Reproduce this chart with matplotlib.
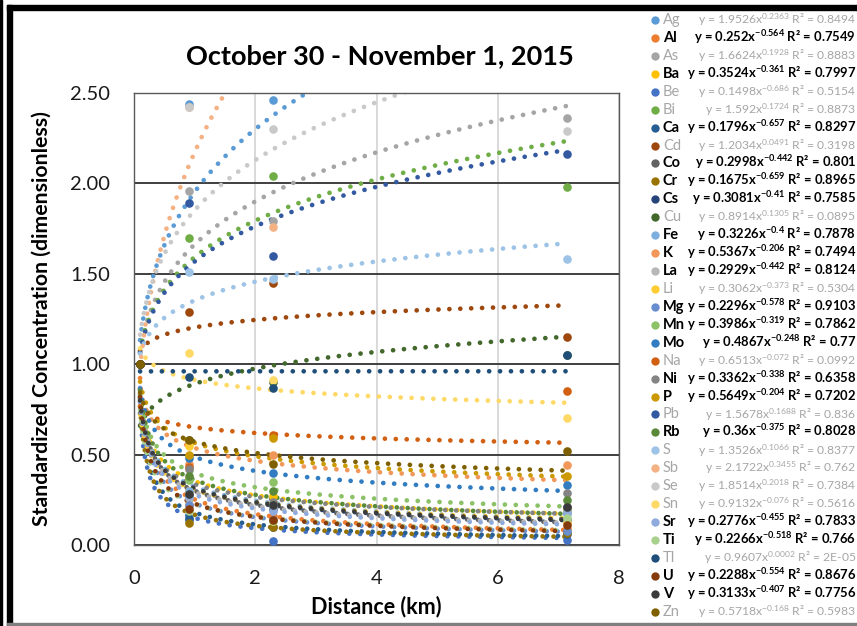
import matplotlib
matplotlib.use('Agg')
import matplotlib.pyplot as plt
import numpy as np
from matplotlib.patches import Rectangle

plt.rcParams['font.family'] = ['Lato', 'DejaVu Sans']
plt.rcParams['mathtext.fontset'] = 'custom'
plt.rcParams['mathtext.rm'] = 'Lato'
plt.rcParams['mathtext.it'] = 'Lato:italic'
plt.rcParams['mathtext.bf'] = 'Lato:bold'

# Sampling sites (km from source)
distance = [0.1, 0.9, 2.3, 7.15]

elements = ['Ag', 'Al', 'As', 'Ba', 'Be', 'Bi', 'Ca', 'Cd', 'Co', 'Cr', 'Cs', 'Cu',
            'Fe', 'K', 'La', 'Li', 'Mg', 'Mn', 'Mo', 'Na', 'Ni', 'P', 'Pb', 'Rb',
            'S', 'Sb', 'Se', 'Sn', 'Sr', 'Ti', 'Tl', 'U', 'V', 'Zn']

colors = ['#5B9BD5', '#ED7D31', '#A5A5A5', '#FFC000', '#4472C4', '#70AD47',
          '#255E91', '#9E480E', '#636363', '#997300', '#264478', '#43682B',
          '#7CAFDD', '#F1975A', '#B7B7B7', '#FFCD33', '#698ED0', '#8CC168',
          '#327DC2', '#D26012', '#848484', '#CC9A00', '#335AA1', '#5A8A39',
          '#9DC3E6', '#F4B183', '#C9C9C9', '#FFD966', '#8FAADC', '#A9D18E',
          '#1F4E79', '#843C0C', '#3B3B3B', '#7F6000']

# standardized concentration at each site, one row per element
conc = [
    [1.0, 2.44, 2.46, 2.85],   # Ag
    [1.0, 0.22, 0.16, 0.09],   # Al
    [1.0, 1.96, 1.79, 2.36],   # As
    [1.0, 0.30, 0.27, 0.19],   # Ba
    [1.0, 0.14, 0.02, 0.03],   # Be
    [1.0, 1.70, 2.04, 1.98],   # Bi
    [1.0, 0.15, 0.10, 0.06],   # Ca
    [1.0, 1.29, 1.45, 1.15],   # Cd
    [1.0, 0.26, 0.22, 0.21],   # Co
    [1.0, 0.12, 0.10, 0.066],  # Cr
    [1.0, 0.27, 0.20, 0.14],   # Cs
    [1.0, 0.58, 0.90, 1.05],   # Cu
    [1.0, 0.30, 0.22, 0.17],   # Fe
    [1.0, 0.45, 0.50, 0.44],   # K
    [1.0, 0.26, 0.21, 0.13],   # La
    [1.0, 0.55, 0.13, 0.12],   # Li
    [1.0, 0.22, 0.14, 0.08],   # Mg
    [1.0, 0.36, 0.35, 0.20],   # Mn
    [1.0, 0.48, 0.40, 0.33],   # Mo
    [1.0, 0.43, 0.61, 0.85],   # Na
    [1.0, 0.42, 0.24, 0.29],   # Ni
    [1.0, 0.50, 0.59, 0.38],   # P
    [1.0, 1.89, 1.60, 2.16],   # Pb
    [1.0, 0.38, 0.30, 0.25],   # Rb
    [1.0, 1.51, 1.47, 1.58],   # S
    [1.0, 2.42, 1.76, 4.60],   # Sb
    [1.0, 2.42, 2.30, 2.29],   # Se
    [1.0, 1.06, 0.91, 0.70],   # Sn
    [1.0, 0.27, 0.19, 0.18],   # Sr
    [1.0, 0.19, 0.13, 0.15],   # Ti
    [1.0, 0.93, 0.87, 1.05],   # Tl
    [1.0, 0.20, 0.14, 0.11],   # U
    [1.0, 0.28, 0.22, 0.21],   # V
    [1.0, 0.58, 0.45, 0.52],   # Zn
]

# power trendline y = a * x^b (from the legend)
coef_a = [1.9526, 0.252, 1.6624, 0.3524, 0.1498, 1.592, 0.1796, 1.2034, 0.2998,
          0.1675, 0.3081, 0.8914, 0.3226, 0.5367, 0.2929, 0.3062, 0.2296, 0.3986,
          0.4867, 0.6513, 0.3362, 0.5649, 1.5678, 0.36, 1.3526, 2.1722, 1.8514,
          0.9132, 0.2776, 0.2266, 0.9607, 0.2288, 0.3133, 0.5718]
coef_b = [0.2363, -0.564, 0.1928, -0.361, -0.686, 0.1724, -0.657, 0.0491, -0.442,
          -0.659, -0.41, 0.1305, -0.4, -0.206, -0.442, -0.373, -0.578, -0.319,
          -0.248, -0.072, -0.338, -0.204, 0.1688, -0.375, 0.1066, 0.3455, 0.2018,
          -0.076, -0.455, -0.518, 0.0002, -0.554, -0.407, -0.168]
r_squared = ['0.8494', '0.7549', '0.8883', '0.7997', '0.5154', '0.8873', '0.8297',
             '0.3198', '0.801', '0.8965', '0.7585', '0.0895', '0.7878', '0.7494',
             '0.8124', '0.5304', '0.9103', '0.7862', '0.77', '0.0992', '0.6358',
             '0.7202', '0.836', '0.8028', '0.8377', '0.762', '0.7384', '0.5616',
             '0.7833', '0.766', '2E-05', '0.8676', '0.7756', '0.5983']
highlight = ['Al', 'Ba', 'Ca', 'Co', 'Cr', 'Cs', 'Fe', 'K', 'La', 'Mg', 'Mn', 'Mo',
             'Ni', 'P', 'Rb', 'Sr', 'Ti', 'U', 'V']

W, H = 857, 626
fig = plt.figure(figsize=(W / 100, H / 100), dpi=100)
ax = fig.add_axes([134 / W, 1 - 545 / H, (619 - 134) / W, (545 - 93) / H])

x_fit = np.linspace(distance[0], distance[-1], 500)
for i, el in enumerate(elements):
    c = colors[i]
    y_fit = coef_a[i] * x_fit ** coef_b[i]
    ax.plot(x_fit, y_fit, color=c, lw=3.4, linestyle=(0, (0.01, 2.3)),
            dash_capstyle='round', zorder=2 + i * 0.01)
    ax.plot(distance, conc[i], 'o', color=c, ms=6.2, mew=0, zorder=3 + i * 0.01)

ax.set_xlim(0, 8)
ax.set_ylim(0, 2.5)
ax.set_xticks([0, 2, 4, 6, 8])
ax.set_yticks([0, 0.5, 1.0, 1.5, 2.0, 2.5])
ax.yaxis.set_major_formatter(matplotlib.ticker.FormatStrFormatter('%.2f'))
ax.tick_params(length=0, labelsize=14.5, labelcolor='#1a1a1a')
ax.tick_params(axis='y', pad=17)
ax.tick_params(axis='x', pad=18)
ax.grid(axis='y', color='#3f3f3f', lw=1.4, zorder=1)
ax.grid(axis='x', color='#D9D9D9', lw=1.4, zorder=1)
ax.set_axisbelow(True)
for s in ax.spines.values():
    s.set_color('#595959')
    s.set_linewidth(1.0)

ax.set_xlabel('Distance (km)', fontsize=15.5, fontweight='bold')
ax.xaxis.set_label_coords(0.5, -0.112)
ax.set_ylabel('Standardized Concentration (dimensionless)', fontsize=15.3, fontweight='bold')
ax.yaxis.set_label_coords(-0.17, 0.5)

fig.text(380 / W, 1 - 56 / H, 'October 30 - November 1, 2015', ha='center', va='center',
         fontsize=19.5, fontweight='bold')

# legend drawn in pixel coordinates
lax = fig.add_axes([0, 0, 1, 1], zorder=5)
lax.set_xlim(0, W)
lax.set_ylim(H, 0)
lax.axis('off')
lax.patch.set_alpha(0)
for i, el in enumerate(elements):
    y = 20 + i * 17.93
    bold = el in highlight
    tc = 'black' if bold else '#A6A6A6'
    lax.plot([655], [y], 'o', color=colors[i], ms=6, mew=0)
    lax.text(663, y + 4, el, ha='left', va='baseline', fontsize=10.5,
             color=tc, fontweight='bold' if bold else 'normal')
    if bold:
        eq = r'y = %sx$^{\mathbf{%s}}$ R² = %s' % (coef_a[i], coef_b[i], r_squared[i])
        fs = 9.4
    else:
        eq = r'y = %sx$^{\mathrm{%s}}$ R² = %s' % (coef_a[i], coef_b[i], r_squared[i])
        fs = 8.7
    lax.text(856, y + 4, eq, ha='right', va='baseline', fontsize=fs, color=tc,
             fontweight='bold' if bold else 'normal')

# outer frame of the screenshot
fig.patches.append(Rectangle((7 / W, 1 - 10 / H), 1, 5 / H, transform=fig.transFigure,
                             color='black', zorder=10))
fig.patches.append(Rectangle((7 / W, 0), 5 / W, 1 - 5 / H, transform=fig.transFigure,
                             color='black', zorder=10))
fig.patches.append(Rectangle((0, 0), 1.5 / W, 1, transform=fig.transFigure,
                             color='black', zorder=10))
fig.patches.append(Rectangle((7 / W, 1.5 / H), 1, 1.2 / H, transform=fig.transFigure,
                             color='#7f7f7f', zorder=10))

fig.savefig('out.png', dpi=100, facecolor='white')
